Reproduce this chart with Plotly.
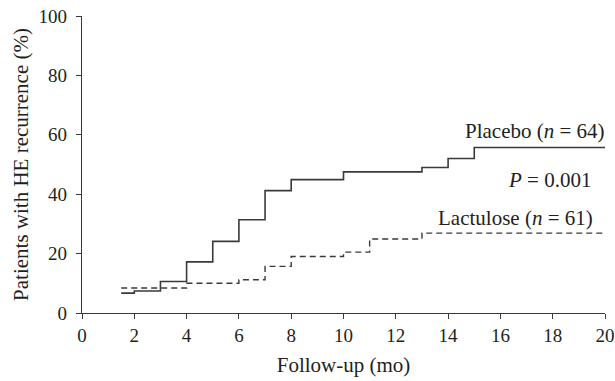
import plotly.graph_objects as go

# Data
placebo_months = [1.5, 2, 3, 4, 5, 6, 7, 8, 10, 13, 14, 15, 20]
placebo_pct = [6.7, 7.4, 10.6, 17.2, 24.1, 31.4, 41.2, 44.9, 47.5, 49.0, 52.0, 55.7, 55.7]
lactulose_months = [1.5, 4, 6, 7, 8, 10, 11, 13, 20]
lactulose_pct = [8.4, 10.0, 11.2, 15.7, 19.0, 20.5, 24.9, 26.9, 26.9]

x_ticks = list(range(0, 21, 2))
y_ticks = list(range(0, 101, 20))

FONT = "Liberation Serif"
FS = 21
TFS = 19
INK = "#231f20"
LINE = "#3a3a3a"

fig = go.Figure()
fig.add_trace(go.Scatter(x=placebo_months, y=placebo_pct, mode="lines",
                         line=dict(shape="hv", color=LINE, width=1.6),
                         name="Placebo", showlegend=False, hoverinfo="skip"))
fig.add_trace(go.Scatter(x=lactulose_months, y=lactulose_pct, mode="lines",
                         line=dict(shape="hv", color=LINE, width=1.4, dash="6px,4px"),
                         name="Lactulose", showlegend=False, hoverinfo="skip"))

fig.add_annotation(x=1.0, xref="paper", y=61.2, yref="y", xanchor="right", xshift=2,
                   text="Placebo (<i>n</i> = 64)", showarrow=False)
fig.add_annotation(x=17.86, y=44.9, xanchor="center",
                   text="<i>P</i> = 0.001", showarrow=False)
fig.add_annotation(x=16.58, y=32.1, xanchor="center",
                   text="Lactulose (<i>n</i> = 61)", showarrow=False)

axis_common = dict(showline=True, linecolor=LINE, linewidth=1.4, ticks="outside",
                   ticklen=5, tickwidth=1.3, tickcolor=LINE, showgrid=False,
                   zeroline=False, automargin=False, ticklabeloverflow="allow",
                   tickfont=dict(family=FONT, size=TFS, color=INK))

fig.update_xaxes(range=[0, 20], tickvals=x_ticks, ticktext=[str(v) for v in x_ticks],
                 title=dict(text="Follow-up (mo)", font=dict(family=FONT, size=FS, color=INK), standoff=12),
                 **axis_common)
fig.update_yaxes(range=[0, 100], tickvals=y_ticks, ticktext=[str(v) for v in y_ticks],
                 ticklabelstandoff=5,
                 title=dict(text="Patients with HE recurrence (%)", font=dict(family=FONT, size=FS, color=INK), standoff=4),
                 **axis_common)

fig.update_layout(width=615, height=381, margin=dict(l=82, r=10, t=16, b=68),
                  plot_bgcolor="white", paper_bgcolor="white",
                  font=dict(family=FONT, size=FS, color=INK))

# Remove the default page margin so the figure fills the window exactly.
fig.write_html("out.html", config={"displayModeBar": False},
               post_script="document.body.style.margin='0px';document.body.style.overflow='hidden';")
